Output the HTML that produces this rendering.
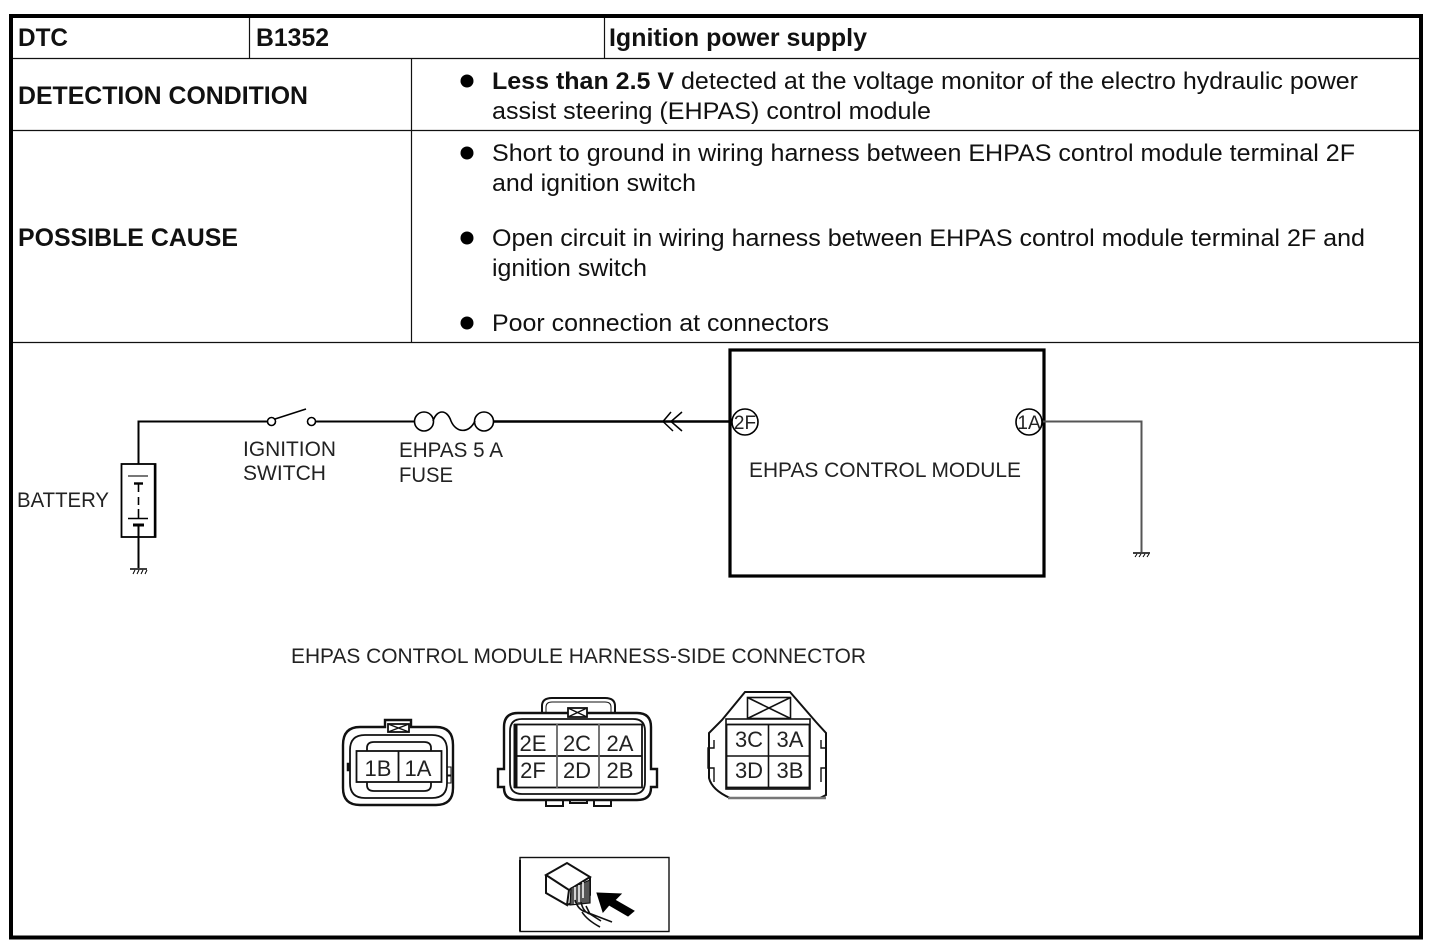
<!DOCTYPE html>
<html>
<head>
<meta charset="utf-8">
<style>
html,body{margin:0;padding:0;background:#fff;width:1430px;height:950px;overflow:hidden}
svg{display:block}
text{font-family:"Liberation Sans",sans-serif;fill:#111}
.h{font-weight:bold;font-size:25px}
.b{font-size:24px}
.l{font-size:21px;fill:#222}
.t{font-size:22px;fill:#222;text-anchor:middle}
</style>
</head>
<body>
<svg width="1430" height="950" viewBox="0 0 1430 950" xmlns="http://www.w3.org/2000/svg">
<rect width="1430" height="950" fill="#fff"/>

<!-- Table frame -->
<rect x="11" y="16" width="1410" height="921.5" fill="none" stroke="#000" stroke-width="4"/>
<g stroke="#111" stroke-width="1.2" fill="none">
<line x1="13" y1="58.5" x2="1420" y2="58.5"/>
<line x1="13" y1="130.5" x2="1420" y2="130.5"/>
<line x1="13" y1="342.5" x2="1420" y2="342.5"/>
<line x1="249.5" y1="18" x2="249.5" y2="58"/>
<line x1="604.5" y1="18" x2="604.5" y2="58"/>
<line x1="411.5" y1="58" x2="411.5" y2="342"/>
</g>

<!-- Table text -->
<text class="h" x="18" y="46" textLength="50" lengthAdjust="spacingAndGlyphs">DTC</text>
<text class="h" x="256" y="46" textLength="73" lengthAdjust="spacingAndGlyphs">B1352</text>
<text class="h" x="609" y="46" textLength="258" lengthAdjust="spacingAndGlyphs">Ignition power supply</text>
<text class="h" x="18" y="104" textLength="290" lengthAdjust="spacingAndGlyphs">DETECTION CONDITION</text>
<text class="h" x="18" y="246" textLength="220" lengthAdjust="spacingAndGlyphs">POSSIBLE CAUSE</text>

<circle cx="467" cy="81" r="6.5" fill="#000"/>
<text class="b" x="492" y="89" textLength="866" lengthAdjust="spacingAndGlyphs"><tspan font-weight="bold">Less than 2.5 V</tspan> detected at the voltage monitor of the electro hydraulic power</text>
<text class="b" x="492" y="119" textLength="439" lengthAdjust="spacingAndGlyphs">assist steering (EHPAS) control module</text>

<circle cx="467" cy="153" r="6.5" fill="#000"/>
<text class="b" x="492" y="161" textLength="863" lengthAdjust="spacingAndGlyphs">Short to ground in wiring harness between EHPAS control module terminal 2F</text>
<text class="b" x="492" y="191" textLength="204" lengthAdjust="spacingAndGlyphs">and ignition switch</text>

<circle cx="467" cy="238" r="6.5" fill="#000"/>
<text class="b" x="492" y="246" textLength="873" lengthAdjust="spacingAndGlyphs">Open circuit in wiring harness between EHPAS control module terminal 2F and</text>
<text class="b" x="492" y="276" textLength="155" lengthAdjust="spacingAndGlyphs">ignition switch</text>

<circle cx="467" cy="323" r="6.5" fill="#000"/>
<text class="b" x="492" y="331" textLength="337" lengthAdjust="spacingAndGlyphs">Poor connection at connectors</text>

<!-- Circuit: battery side -->
<g fill="none" stroke="#000">
<path d="M138.5 464V421.5H267" stroke-width="2"/>
<circle cx="271.5" cy="421.5" r="4" stroke-width="1.6"/>
<line x1="275" y1="419" x2="306" y2="409" stroke-width="1.6"/>
<circle cx="311.5" cy="421.5" r="4" stroke-width="1.6"/>
<line x1="316" y1="421.5" x2="414" y2="421.5" stroke-width="2"/>
<circle cx="424" cy="421.5" r="9.5" stroke-width="1.6"/>
<circle cx="484" cy="421.5" r="9.5" stroke-width="1.6"/>
<path d="M433 421C437 409 447 409 451 421C456 433 469 434 475 421" stroke-width="1.6"/>
<line x1="493" y1="421.5" x2="730" y2="421.5" stroke-width="2.4"/>
<path d="M671 412L663 421.5L673 431M682 412L671 421.5L682 431" stroke-width="1.5"/>

<!-- Battery -->
<rect x="121.5" y="464" width="34" height="73" stroke-width="1.8"/>
<line x1="155" y1="464" x2="155" y2="537" stroke-width="2.4"/>
<line x1="128" y1="476" x2="148" y2="476" stroke="#777" stroke-width="2"/>
<line x1="134" y1="483.5" x2="143" y2="483.5" stroke-width="2.4"/>
<path d="M138.5 484V492M138.5 497V505M138.5 509V518" stroke-width="1.6"/>
<line x1="128" y1="518.5" x2="148" y2="518.5" stroke-width="1.6"/>
<line x1="133" y1="525" x2="144" y2="525" stroke-width="3"/>
<line x1="138.5" y1="526" x2="138.5" y2="568" stroke-width="2"/>
<line x1="130" y1="569" x2="147" y2="569" stroke-width="1.6"/>
<path d="M133 574L135 570M137 574L139 570M141 574L143 570M145 574L147 570" stroke-width="1"/>

<!-- Module -->
<rect x="730" y="350" width="314" height="226" stroke-width="3.2"/>
<circle cx="745" cy="422" r="13" fill="#fff" stroke-width="1.6"/>
<circle cx="1029" cy="422" r="13" fill="#fff" stroke-width="1.6"/>
<path d="M1043 421.5H1141.5V552" stroke="#555" stroke-width="2"/>
<line x1="1133" y1="553" x2="1150" y2="553" stroke-width="1.6"/>
<path d="M1135 557L1137 554M1139 557L1141 554M1143 557L1145 554M1147 557L1149 554" stroke-width="1"/>
</g>
<text x="745" y="429" font-size="19" text-anchor="middle" style="fill:#222">2F</text>
<text x="1029" y="429" font-size="19" text-anchor="middle" style="fill:#222">1A</text>

<text class="l" x="243" y="456" textLength="93" lengthAdjust="spacingAndGlyphs">IGNITION</text>
<text class="l" x="243" y="480" textLength="83" lengthAdjust="spacingAndGlyphs">SWITCH</text>
<text class="l" x="399" y="457" textLength="104" lengthAdjust="spacingAndGlyphs">EHPAS 5 A</text>
<text class="l" x="399" y="482" textLength="54" lengthAdjust="spacingAndGlyphs">FUSE</text>
<text class="l" x="17" y="507" textLength="92" lengthAdjust="spacingAndGlyphs">BATTERY</text>
<text class="l" x="749" y="477" textLength="272" lengthAdjust="spacingAndGlyphs">EHPAS CONTROL MODULE</text>
<text class="l" x="291" y="663" textLength="575" lengthAdjust="spacingAndGlyphs">EHPAS CONTROL MODULE HARNESS-SIDE CONNECTOR</text>

<!-- Connector 1 -->
<g fill="none" stroke="#111" stroke-width="1.8">
<path d="M360 727H385V720H411V727H436Q453 727 453 745V788Q453 805 436 805H360Q343 805 343 788V745Q343 727 360 727Z" stroke-width="2.4"/>
<path d="M365 735H432Q447 735 447 750V783Q447 798 432 798H365Q350 798 350 783V750Q350 735 365 735Z"/>
<path d="M367 751V748Q367 742 374 742H424Q431 742 431 748V751"/>
<path d="M367 782V785Q367 791 374 791H424Q431 791 431 785V782"/>
<rect x="356.500" y="751" width="85" height="31" fill="#fff"/>
<line x1="398.500" y1="751" x2="398.500" y2="782"/>
<rect x="388" y="724" width="21" height="8" fill="#fff"/>
<path d="M388 724L409 732M409 724L388 732" stroke-width="1.4"/>
<rect x="447" y="767" width="4" height="8" stroke-width="1"/>
<rect x="447" y="776" width="4" height="7" stroke-width="1"/>
<rect x="347" y="763" width="3" height="8" fill="#111" stroke-width="0.5"/>
</g>
<text class="t" x="378" y="776">1B</text>
<text class="t" x="418" y="776">1A</text>

<!-- Connector 2 -->
<g fill="none" stroke="#111" stroke-width="1.8">
<path d="M542 713V706Q542 698 552 698H605Q615 698 615 706V713" stroke-width="2"/>
<path d="M546 713V707Q546 702 552 702H605Q611 702 611 707V713" stroke-width="1"/>
<path d="M518 713H637Q651 713 651 727V769H657V787H651V788Q651 800 637 800H518Q504 800 504 788V787H498V769H504V727Q504 713 518 713Z" stroke-width="2.4"/>
<path d="M522 719H633Q645 719 645 731V782Q645 794 633 794H522Q510 794 510 782V731Q510 719 522 719Z"/>
<rect x="515" y="724.500" width="127" height="63" fill="#fff" stroke-width="1.8"/>
<line x1="515.500" y1="724" x2="515.500" y2="788" stroke-width="4"/>
<line x1="515" y1="756" x2="642" y2="756"/>
<line x1="557" y1="724" x2="557" y2="788" stroke="#666"/>
<line x1="599" y1="724" x2="599" y2="788" stroke="#666"/>
<rect x="568" y="708" width="19" height="9" fill="#fff"/>
<path d="M568 708L587 717M587 708L568 717" stroke-width="1.4"/>
<path d="M546 800V806H563V800M570 800V803H587V800M594 800V806H611V800" stroke-width="2"/>
</g>
<text class="t" x="533" y="751">2E</text>
<text class="t" x="577" y="751">2C</text>
<text class="t" x="620" y="751">2A</text>
<text class="t" x="533" y="778">2F</text>
<text class="t" x="577" y="778">2D</text>
<text class="t" x="620" y="778">2B</text>

<!-- Connector 3 -->
<g fill="none" stroke="#111" stroke-width="1.6">
<path d="M745 692H790L816 722L826 733V795L820 798H730Q712 790 709 778V733L722 720Z" stroke-width="2"/>
<path d="M714 740V748H708V768H714V782M821 740V748H826V768H821V782" stroke-width="1.4"/>
<rect x="726" y="719" width="84" height="70" stroke-width="1.6"/>
<rect x="726.500" y="724.500" width="83" height="63" fill="#fff" stroke-width="1.8"/>
<line x1="726" y1="756" x2="810" y2="756"/>
<line x1="768.500" y1="724" x2="768.500" y2="788"/>
<rect x="747.500" y="697.500" width="43" height="21"/>
<path d="M747.500 697.500L790.500 718.500M790.500 697.500L747.500 718.500"/>
<path d="M728 798H826" stroke="#777" stroke-width="2.4"/>
</g>
<text class="t" x="749" y="747">3C</text>
<text class="t" x="790" y="747">3A</text>
<text class="t" x="749" y="778">3D</text>
<text class="t" x="790" y="778">3B</text>

<!-- Small view icon -->
<g fill="none" stroke="#111">
<rect x="520" y="857.500" width="149" height="74" stroke-width="1.4"/>
<line x1="520" y1="860" x2="520" y2="931" stroke-width="2"/>
<path d="M546 875L567 863L590 877L569 890ZM546 875V893L567 905L569 890M590 877V895L567 905" fill="#fff" stroke-width="2"/>
<path d="M571 888L590 880V903L570 905Z" fill="#555" stroke-width="1.2"/>
<path d="M583 882V898M575 887V904M579 885V902" stroke="#fff" stroke-width="1.5"/>
<path d="M575 900Q578 910 586 912L612 922M581 902Q583 912 590 914L601 921M586 906L590 914M582 912Q587 920 600 927" stroke-width="1.6"/>
<path d="M597 893L621 894L615 900L634 911L628 916L609 905L603 912Z" fill="#000" stroke="#000" stroke-width="1"/>
</g>
</svg>
</body>
</html>
